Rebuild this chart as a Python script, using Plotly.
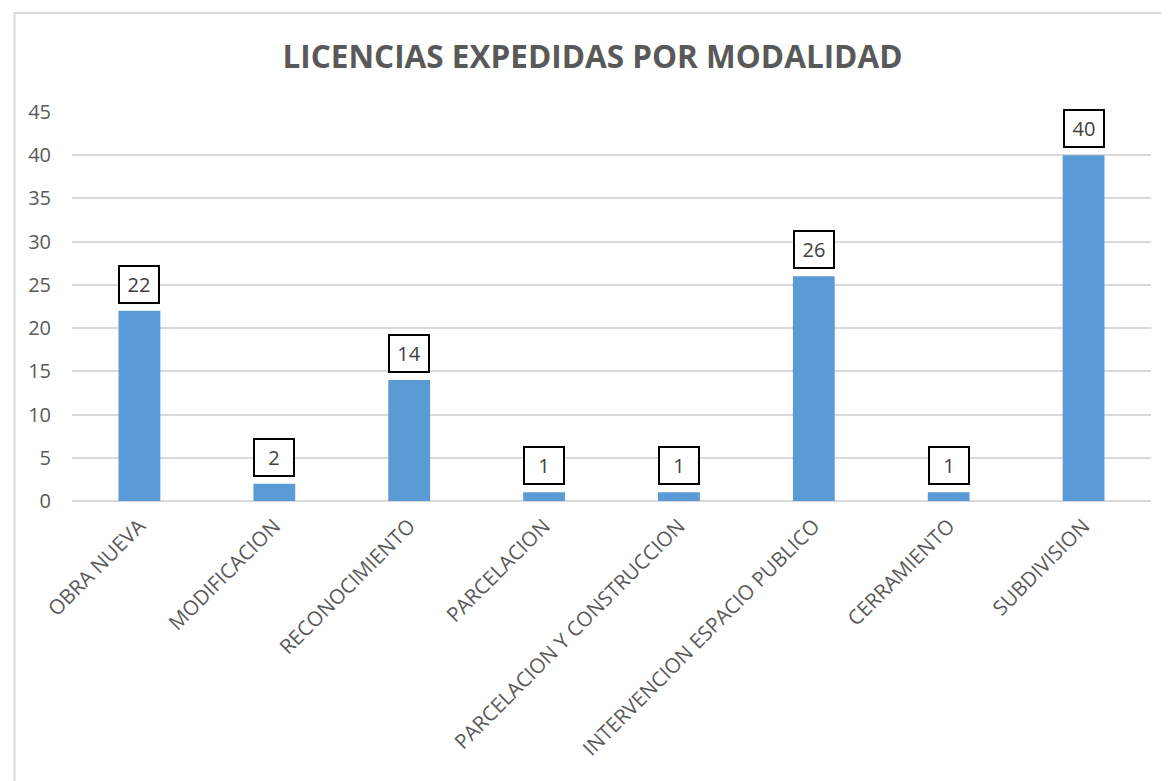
import plotly.graph_objects as go

categories = ["OBRA NUEVA", "MODIFICACION", "RECONOCIMIENTO", "PARCELACION",
              "PARCELACION Y CONSTRUCCION", "INTERVENCION ESPACIO PUBLICO",
              "CERRAMIENTO", "SUBDIVISION"]
values = [22, 2, 14, 1, 1, 26, 1, 40]
y_ticks = [0, 5, 10, 15, 20, 25, 30, 35, 40, 45]
title_text = "LICENCIAS EXPEDIDAS POR MODALIDAD"

FONT = "Open Sans"
GRAY = "#595959"

fig = go.Figure()
fig.add_trace(go.Bar(x=categories, y=values, marker=dict(color="#5B9BD5", line=dict(width=0)),
                     width=0.31, hoverinfo="x+y"))

for c, v in zip(categories, values):
    fig.add_annotation(x=c, y=v, text=str(v), showarrow=False, yanchor="bottom", yshift=7,
                       font=dict(family=FONT, size=20, color="#404040"),
                       bordercolor="black", borderwidth=2, borderpad=4, bgcolor="white",
                       width=30)

fig.add_shape(type="rect", xref="paper", yref="paper", x0=-0.0533, x1=1.05, y0=-0.85, y1=1.2545,
              line=dict(color="#D9D9D9", width=2), layer="below")

fig.update_layout(
    width=1169, height=781,
    margin=dict(l=64, r=26, t=104, b=288),
    paper_bgcolor="white", plot_bgcolor="white",
    showlegend=False,
    title=dict(text="<b>" + title_text + "</b>", x=0.5, xanchor="center", y=0.937, yanchor="middle",
               font=dict(family=FONT, size=31.5, color=GRAY)),
    bargap=0.69,
    font=dict(family=FONT, color=GRAY),
)
fig.update_xaxes(tickangle=-45, tickfont=dict(family=FONT, size=20.5, color=GRAY),
                 showline=False, ticks="", showgrid=False, ticklabelstandoff=8)
fig.update_yaxes(range=[0, 45], tickvals=y_ticks, tickfont=dict(family=FONT, size=20, color=GRAY),
                 showgrid=True, gridcolor="#D9D9D9", gridwidth=1.5, zeroline=True,
                 zerolinecolor="#D9D9D9", zerolinewidth=1.5, ticks="", ticklabelstandoff=20,
                 showline=False)

fig.write_html("out.html")
